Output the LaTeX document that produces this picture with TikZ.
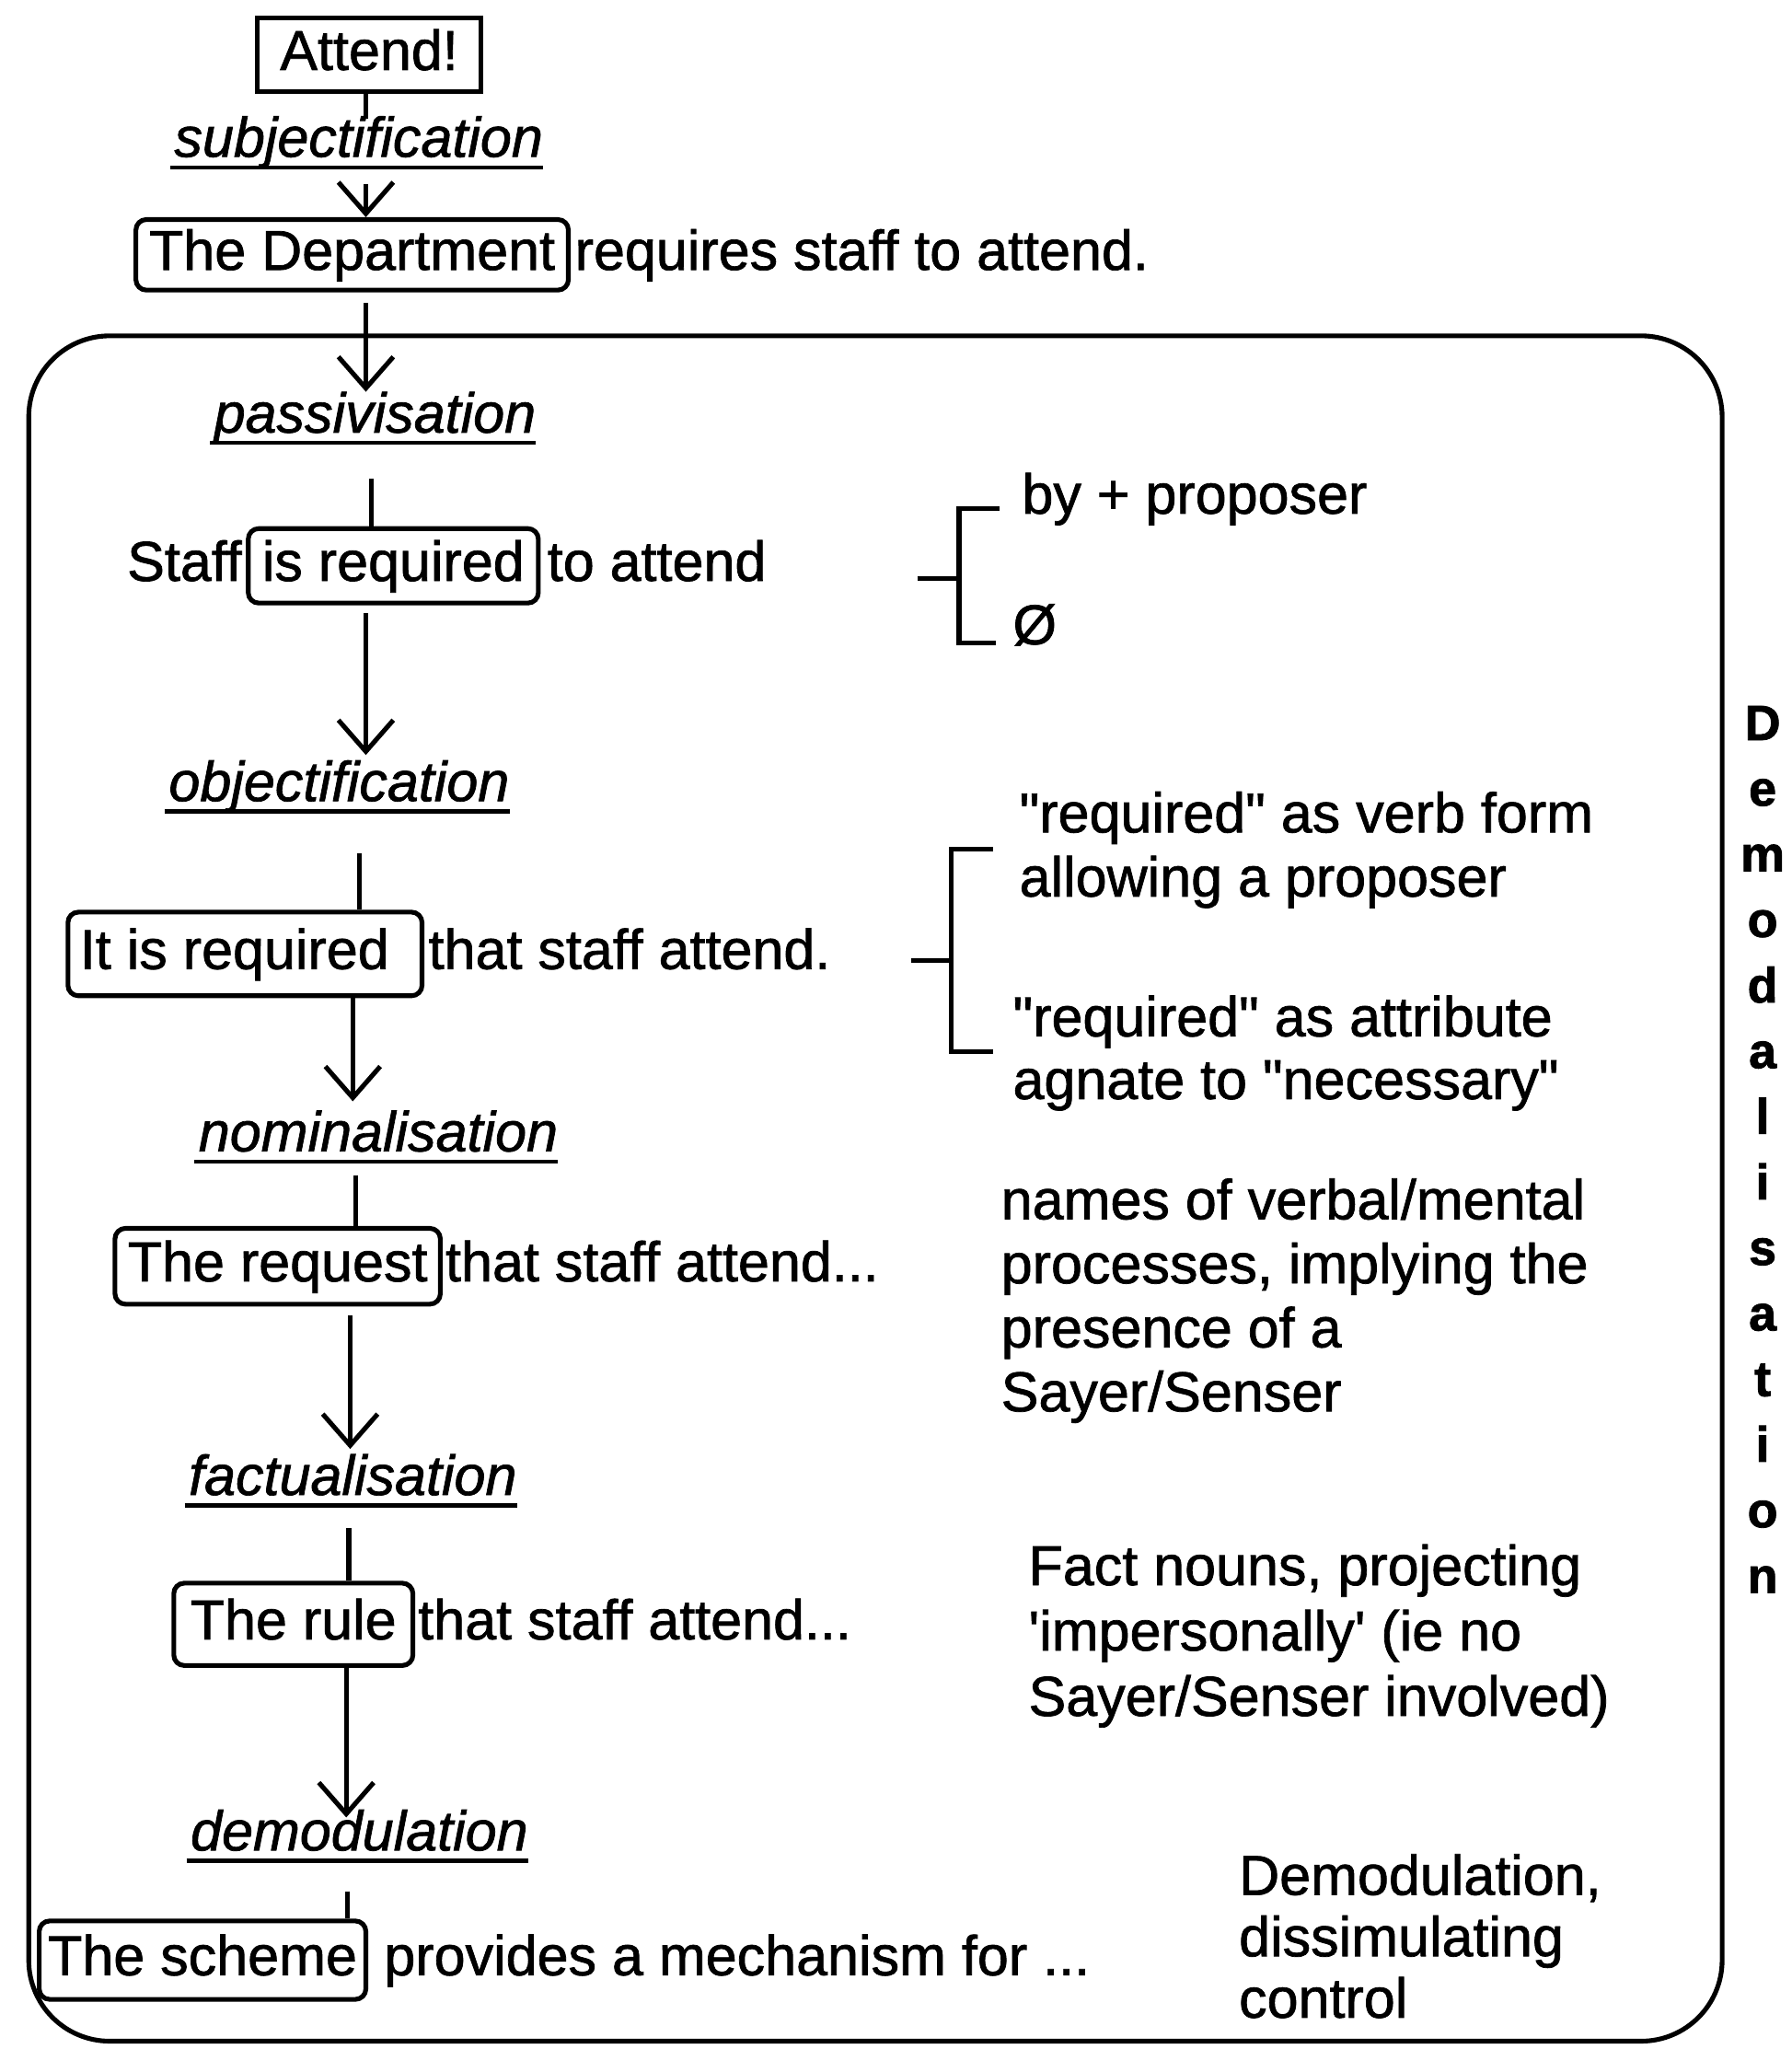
\documentclass[tikz,border=0pt]{standalone}
\usepackage{fontspec}
\newfontfamily\lsans{Liberation Sans}[FakeBold=1.2]
\newfontfamily\lsansbf{Liberation Sans Bold}[FakeBold=1.5]
\usetikzlibrary{arrows.meta,calc}
\begin{document}
\begin{tikzpicture}[x=1pt,y=-1pt,
  every node/.style={font=\lsans\fontsize{43}{49}\selectfont},
  ln/.style={line width=3.6pt},
  arr/.style={line width=3.6pt,-{Straight Barb[length=24pt,width=42pt]}},
  box/.style={draw,line width=3.6pt,rounded corners=8pt,inner sep=0pt,
    text height=31pt,text depth=8pt},
  sbox/.style={box,rounded corners=0pt},
  lab/.style={inner sep=0pt,anchor=base,
    font=\lsans\itshape\fontsize{43}{49}\selectfont,text height=31pt,text depth=9pt},
  txt/.style={inner sep=0pt,anchor=base west},
  uline/.style={line width=3pt}]
\useasboundingbox (0,0) rectangle (1371,1568);

% outer frame of the demodalisation stage
\draw[ln,rounded corners=62pt] (22,257) rectangle (1318,1562);

% spine: boxed elements and process labels
\node[sbox,minimum width=171pt,minimum height=56pt] (attend) at (282.5,42) {Attend!};
\node[lab] (subj) at (274.5,120) {subjectification};
\node[box,minimum width=331pt,minimum height=54pt] (dept) at (269.5,195) {The Department};
\node[txt] (deptr) at ([xshift=3pt]dept.base east) {requires staff to attend.};
\node[lab] (pass) at (287,331) {passivisation};
\node[box,minimum width=222pt,minimum height=57pt] (isreq) at (301,433) {is required};
\node[inner sep=0pt,anchor=base east] (staff) at ([xshift=-3pt]isreq.base west) {Staff};
\node[txt] (isreqr) at ([xshift=5pt]isreq.base east) {to attend};
\node[lab] (obj) at (259.5,613) {objectification};
\node[box,minimum width=271pt,minimum height=64pt] (itreq) at (187.5,730) {It is required\hspace*{16pt}};
\node[txt] (itreqr) at ([xshift=3pt]itreq.base east) {that staff attend.};
\node[lab] (nom) at (289.5,881) {nominalisation};
\node[box,minimum width=249pt,minimum height=58pt] (req) at (212.5,969) {The request};
\node[txt] (reqr) at ([xshift=2pt]req.base east) {that staff attend...};
\node[lab] (fact) at (270,1144) {factualisation};
\node[box,minimum width=183pt,minimum height=63pt] (rule) at (224.5,1243) {The rule};
\node[txt] (ruler) at ([xshift=2pt]rule.base east) {that staff attend...};
\node[lab] (demod) at (275,1416) {demodulation};
\node[box,minimum width=250pt,minimum height=60pt] (scheme) at (155,1500) {The scheme};
\node[txt] (schemer) at ([xshift=12pt]scheme.base east) {provides a mechanism for ...};

% underlines of the process labels
\foreach \n in {subj,pass,obj,nom,fact,demod}
  \draw[uline] ($(\n.base west)+(-3,8)$) -- ($(\n.base east)+(0,8)$);

% columns of the connectors
\coordinate (c1) at (280,0);
\coordinate (c4) at (284,0);
\coordinate (c6) at (275,0);
\coordinate (c7) at (270,0);
\coordinate (c8) at (272,0);
\coordinate (c9) at (268,0);
\coordinate (c10) at (267,0);
\coordinate (c11) at (265,0);
\coordinate (c12) at (266,0);

\draw[ln] (attend.south -| c1) -- ($(subj.north -| c1)+(0,2)$);
\draw[arr] ($(subj.south -| c1)+(0,12)$) -- (dept.north -| c1);
\draw[arr] ($(dept.south -| c1)+(0,8)$) -- (pass.north -| c1);
\draw[ln] ($(pass.south -| c4)+(0,26)$) -- (isreq.north -| c4);
\draw[arr] ($(isreq.south -| c1)+(0,6)$) -- ($(obj.north -| c1)+(0,-4)$);
\draw[ln] ($(obj.south -| c6)+(0,31)$) -- (itreq.north -| c6);
\draw[arr] (itreq.south -| c7) -- ($(nom.north -| c7)+(0,-7)$);
\draw[ln] ($(nom.south -| c8)+(0,9)$) -- (req.north -| c8);
\draw[arr] ($(req.south -| c9)+(0,7)$) -- ($(fact.north -| c9)+(0,-4)$);
\draw[ln] ($(fact.south -| c10)+(0,16)$) -- (rule.north -| c10);
\draw[arr] (rule.south -| c11) -- ($(demod.north -| c11)+(0,6)$);
\draw[ln] ($(demod.south -| c12)+(0,22)$) -- (scheme.north -| c12);

% first option bracket
\node[txt] (byp) at (782,393) {by + proposer};
\node[txt] (nil) at (775,493) {Ø};
\coordinate (b1x) at (734,0);
\coordinate (b1t) at (765,389);
\coordinate (b1b) at (762,492);
\coordinate (b1s) at (702,443);
\draw[ln] (b1t) -- (b1t -| b1x) -- (b1b -| b1x) -- (b1b);
\draw[ln] (b1s) -- (b1s -| b1x);

% second option bracket
\node[txt] (verb1) at (780,637) {"required" as verb form};
\node[txt] (verb2) at (780,686) {allowing a proposer};
\node[txt] (attr1) at (775,793) {"required" as attribute};
\node[txt] (attr2) at (775,841) {agnate to "necessary"};
\coordinate (b2x) at (728,0);
\coordinate (b2t) at (760,650);
\coordinate (b2b) at (760,805);
\coordinate (b2s) at (697,735);
\draw[ln] (b2t) -- (b2t -| b2x) -- (b2b -| b2x) -- (b2b);
\draw[ln] (b2s) -- (b2s -| b2x);

% glosses
\node[txt] (nm1) at (766,933) {names of verbal/mental};
\node[txt] (nm2) at (766,982) {processes, implying the};
\node[txt] (nm3) at (766,1031) {presence of a};
\node[txt] (nm4) at (766,1080) {Sayer/Senser};
\node[txt] (fn1) at (787,1213) {Fact nouns, projecting};
\node[txt] (fn2) at (787,1263) {'impersonally' (ie no};
\node[txt] (fn3) at (787,1313) {Sayer/Senser involved)};
\node[txt] (dm1) at (948,1450) {Demodulation,};
\node[txt] (dm2) at (948,1497) {dissimulating};
\node[txt] (dm3) at (948,1544) {control};

% vertical side label
\node[inner sep=0pt,anchor=north,align=center,
  font=\lsansbf\fontsize{38}{50.2}\selectfont] (side) at (1349,540)
  {D\\e\\m\\o\\d\\a\\l\\i\\s\\a\\t\\i\\o\\n};
\end{tikzpicture}
\end{document}
